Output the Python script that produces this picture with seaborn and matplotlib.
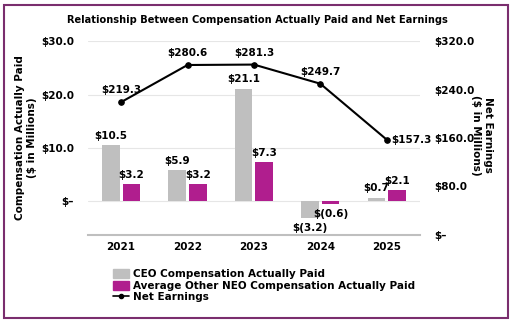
import matplotlib
matplotlib.use("Agg")
import matplotlib.pyplot as plt
import seaborn as sns
import pandas as pd
import numpy as np
from matplotlib.patches import Rectangle, Patch
from matplotlib.lines import Line2D

years = ["2021", "2022", "2023", "2024", "2025"]
ceo_cap = [10.5, 5.9, 21.1, -3.2, 0.7]
neo_cap = [3.2, 3.2, 7.3, -0.6, 2.1]
net_earnings = [219.3, 280.6, 281.3, 249.7, 157.3]
left_ticks = [0, 10, 20, 30]
right_ticks = [0, 80, 160, 240, 320]

ceo_label = "CEO Compensation Actually Paid"
neo_label = "Average Other NEO Compensation Actually Paid"
net_label = "Net Earnings"

gray = "#BFBFBF"
purple = "#B01E8E"

sns.set_theme(style="white")
plt.rcParams["font.family"] = ["DejaVu Sans"]
plt.rcParams["font.weight"] = "bold"
plt.rcParams["text.color"] = "black"
plt.rcParams["axes.labelcolor"] = "black"
plt.rcParams["xtick.color"] = "black"
plt.rcParams["ytick.color"] = "black"

fig = plt.figure(figsize=(5.14, 3.24), dpi=100)
ax = fig.add_axes([0.171, 0.275, 0.646, 0.598])

df = pd.DataFrame({
    "Year": years * 2,
    "Value": ceo_cap + neo_cap,
    "Series": [ceo_label] * len(years) + [neo_label] * len(years),
})
sns.barplot(data=df, x="Year", y="Value", hue="Series", order=years,
            hue_order=[ceo_label, neo_label], palette=[gray, purple],
            width=0.62, gap=0.15, ax=ax, legend=False, saturation=1, linewidth=0)

def money(v):
    if abs(v) < 1e-9:
        return "$–"
    if v < 0:
        return f"$({abs(v):.1f})"
    return f"${v:.1f}"

fs = 7.5
for cont in ax.containers:
    for bar in cont:
        h = bar.get_height()
        xc = bar.get_x() + bar.get_width() / 2
        if h >= 0:
            ax.annotate(money(h), (xc, h), xytext=(0, 3), textcoords="offset points",
                        ha="center", va="bottom", fontsize=fs, fontweight="bold", color="black")
        else:
            ax.annotate(money(h), (xc, h), xytext=(0, -3), textcoords="offset points",
                        ha="center", va="top", fontsize=fs, fontweight="bold", color="black")

ax.set_xlim(-0.5, 4.5)
ax.set_ylim(-6.3, 30)
ax.set_yticks(left_ticks)
ax.set_yticklabels([money(t) for t in left_ticks], fontsize=fs, fontweight="bold")
ax.set_xticks(range(len(years)))
ax.set_xticklabels(years, fontsize=fs, fontweight="bold")
ax.grid(axis="y", color="#E6E6E6", lw=0.8)
ax.set_axisbelow(True)
for s in ["top", "right", "left"]:
    ax.spines[s].set_visible(False)
ax.spines["bottom"].set_color(gray)
ax.spines["bottom"].set_linewidth(1.5)
ax.tick_params(axis="y", length=0, pad=10)
ax.tick_params(axis="x", length=0, pad=5)
ax.set_xlabel("")
ax.set_ylabel("Compensation Actually Paid\n($ in Millions)", fontsize=fs, fontweight="bold")
ax.yaxis.label.set_va("center")
ax.yaxis.label.set_ha("center")
ax.yaxis.set_label_coords(-0.186, 0.5)

ax2 = ax.twinx()
xpos = list(range(len(years)))
sns.lineplot(x=xpos, y=net_earnings, ax=ax2, color="black", lw=1.5,
             marker="o", markersize=4, markeredgecolor="black")
ax2.set_ylim(0, 320)
ax2.set_xlim(-0.5, 4.5)
ax2.set_yticks(right_ticks)
ax2.set_yticklabels([money(t) for t in right_ticks], fontsize=fs, fontweight="bold")
ax2.tick_params(axis="y", length=0, pad=10)
for s in ["top", "right", "left", "bottom"]:
    ax2.spines[s].set_visible(False)
ax2.grid(False)
ax2.set_ylabel("Net Earnings\n($ in Millions)", fontsize=fs, fontweight="bold", rotation=-90)
ax2.yaxis.label.set_va("center")
ax2.yaxis.label.set_ha("center")
ax2.yaxis.set_label_coords(1.187, 0.515)
for i, v in enumerate(net_earnings):
    if i == len(net_earnings) - 1:
        ax2.annotate(money(v), (i, v), xytext=(3, 0), textcoords="offset points",
                     ha="left", va="center", fontsize=fs, fontweight="bold", color="black")
    else:
        ax2.annotate(money(v), (i, v), xytext=(0, 5), textcoords="offset points",
                     ha="center", va="bottom", fontsize=fs, fontweight="bold", color="black")

fig.suptitle("Relationship Between Compensation Actually Paid and Net Earnings",
             x=0.5, y=0.955, fontsize=7.1, fontweight="bold", color="black")

handles = [Patch(color=gray, label=ceo_label), Patch(color=purple, label=neo_label),
           Line2D([0], [0], color="black", marker="o", markersize=3, lw=1.2, label=net_label)]
fig.legend(handles=handles, loc="upper left", bbox_to_anchor=(0.21, 0.185),
           frameon=False, prop={"weight": "bold", "size": fs},
           handlelength=1.5, handleheight=0.9, labelspacing=0.15, borderpad=0, handletextpad=0.4)

fig.patches.append(Rectangle((0.008, 0.02), 0.98, 0.965, transform=fig.transFigure,
                             fill=False, edgecolor="#7A2E6E", lw=1.5))

fig.savefig("out.png", dpi=100)
